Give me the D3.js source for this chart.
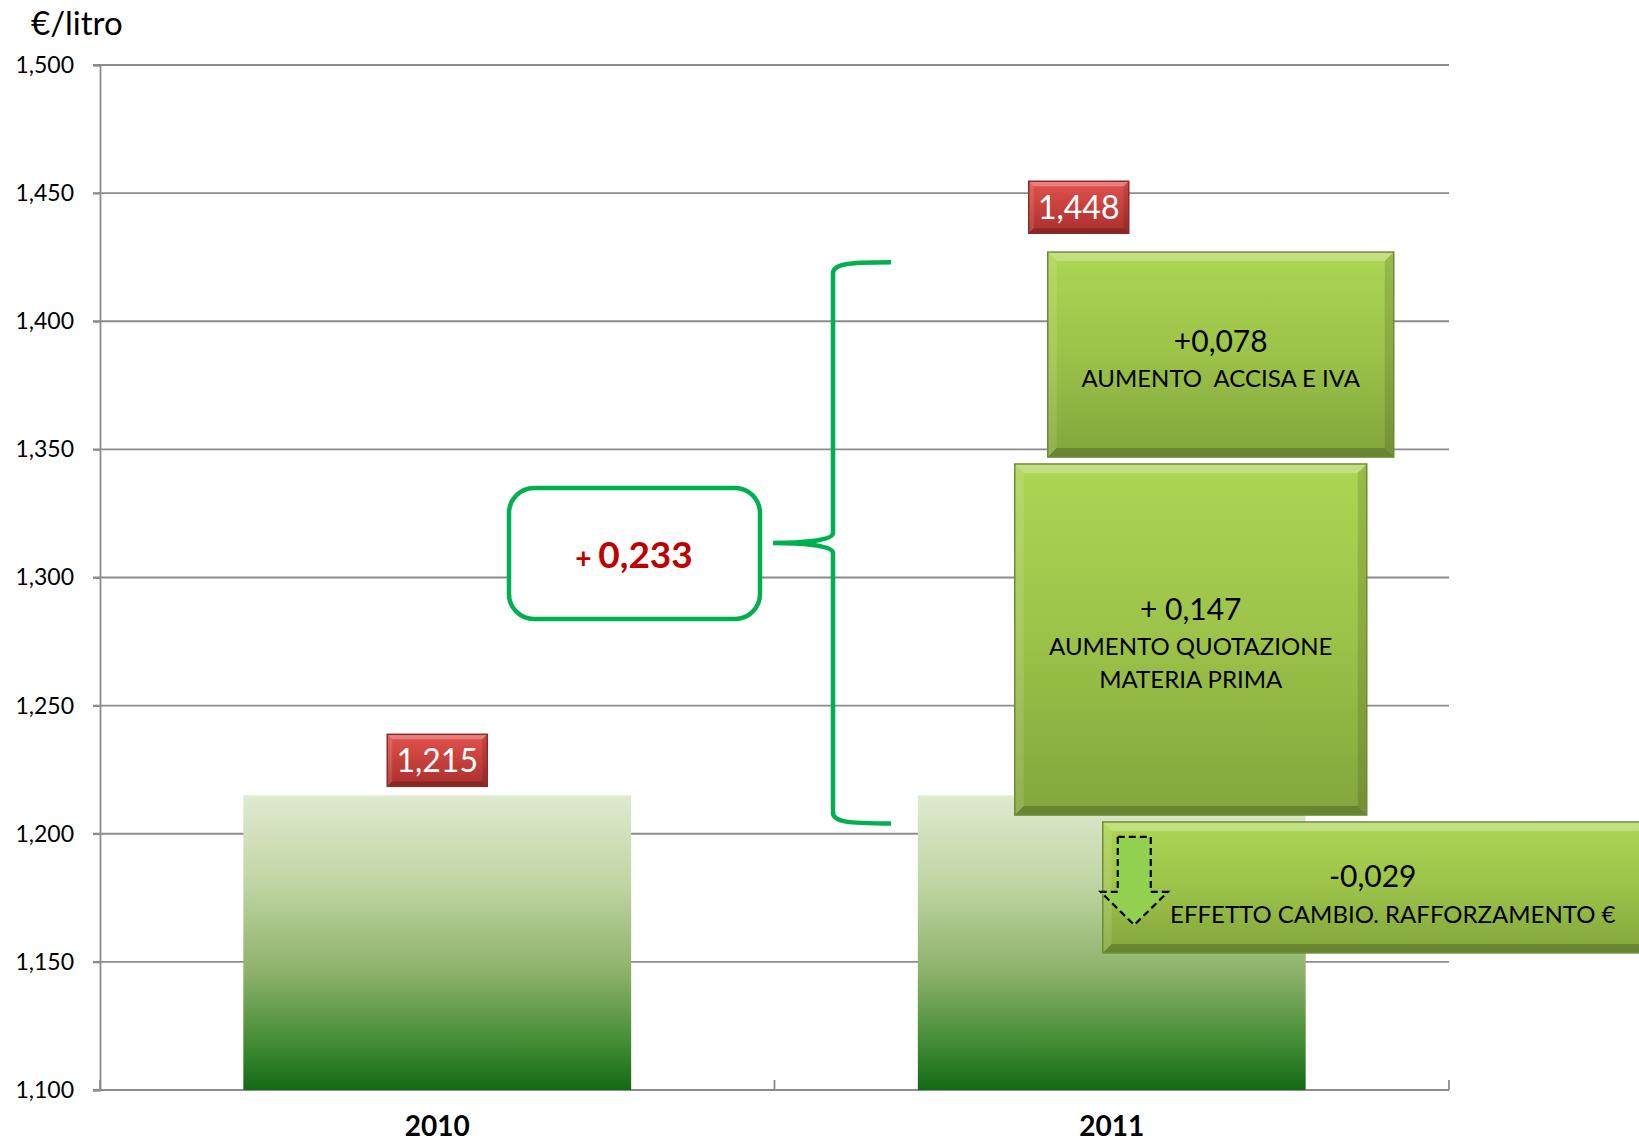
<!DOCTYPE html>
<html>
<head>
<meta charset="utf-8">
<script src="https://cdn.jsdelivr.net/npm/d3@7"></script>
<style>
  html, body { margin: 0; padding: 0; background: #fff; }
  svg { display: block; font-family: Lato, "Open Sans", sans-serif; }
</style>
</head>
<body>
<svg id="chart" width="1639" height="1142"></svg>
<script>
// --- Data ---
const categories = ["2010", "2011"];
const barValues = [1.215, 1.215];
const totalValues = [1.215, 1.448];
const yTicks = [1.1, 1.15, 1.2, 1.25, 1.3, 1.35, 1.4, 1.45, 1.5];
const changeValues = [0.078, 0.147, -0.029];
const changeSigns = ["+", "+ ", ""];
const changeLabels = [
    ["AUMENTO  ACCISA E IVA"],
    ["AUMENTO QUOTAZIONE", "MATERIA PRIMA"],
    ["EFFETTO CAMBIO. RAFFORZAMENTO €"]
];
const totalChange = 0.233;
const yUnit = "€/litro";

// --- Layout ---
const M = { left: 100, right: 1449, top: 65, bottom: 1090 };
const COLORS = {
    grid: "#8c8c8c",
    brace: "#00b050",
    redText: "#c00000"
};
// change boxes: x offsets from the 2011 bar centre, vertical extent in axis units
const boxLayout = [
    { x0: -64, x1: 282, top: 1.427, bottom: 1.347, lines: [352, 387] },
    { x0: -97, x1: 255, top: 1.3443, bottom: 1.2073, lines: [620, 655, 688] },
    { x0: -9, x1: 545, top: 1.2046, bottom: 1.1535, lines: [887, 923], textDx: [270, 290] }
];
const labelOffsets = [{ dx: 0, dy: -9 }, { dx: -33, dy: 35 }];

const it = d3.formatLocale({ decimal: ",", thousands: ".", grouping: [3], currency: ["€", ""], minus: "-" });
const fmt = it.format(".3f");

const svg = d3.select("#chart");

const x = d3.scaleBand()
    .domain(categories)
    .range([M.left, M.right])
    .paddingInner(0.425)
    .paddingOuter(0.2125);

const y = d3.scaleLinear()
    .domain([1.1, 1.5])
    .range([M.bottom, M.top]);

const defs = svg.append("defs");

function vGradient(id, stops) {
    const g = defs.append("linearGradient").attr("id", id)
        .attr("x1", 0).attr("y1", 0).attr("x2", 0).attr("y2", 1);
    stops.forEach(s => g.append("stop").attr("offset", s[0]).attr("stop-color", s[1]));
}
vGradient("barGrad", [[0, "#dfead0"], [0.3, "#c0d5a3"], [0.6, "#8db269"], [0.85, "#3f8a33"], [1, "#126a13"]]);
vGradient("greenBox", [[0, "#acd653"], [0.5, "#9cc249"], [1, "#83a53c"]]);
vGradient("redBox", [[0, "#e2524d"], [1, "#a92f2c"]]);

// --- Grid ---
svg.append("g")
    .selectAll("line")
    .data(yTicks)
    .join("line")
    .attr("x1", M.left - 7)
    .attr("x2", M.right)
    .attr("y1", d => y(d))
    .attr("y2", d => y(d))
    .attr("stroke", COLORS.grid)
    .attr("stroke-width", 1.8);

// --- Y axis ---
const yAxis = svg.append("g")
    .attr("transform", `translate(${M.left},0)`)
    .call(d3.axisLeft(y).tickValues(yTicks).tickFormat(fmt).tickSize(7).tickPadding(19));
yAxis.select(".domain").attr("stroke", COLORS.grid).attr("stroke-width", 1.8);
yAxis.selectAll(".tick line").attr("stroke", COLORS.grid).attr("stroke-width", 1.8);
yAxis.selectAll(".tick text")
    .attr("font-family", "Lato, sans-serif")
    .attr("font-size", 23)
    .attr("fill", "#000");

svg.append("text")
    .attr("x", 31)
    .attr("y", 35)
    .attr("font-size", 33)
    .attr("fill", "#000")
    .text(yUnit);

// --- X axis ---
const boundaries = [0, 1, 2].map(i => M.left + i * x.step());
svg.append("g")
    .selectAll("line")
    .data(boundaries)
    .join("line")
    .attr("x1", d => d).attr("x2", d => d)
    .attr("y1", M.bottom - 10).attr("y2", M.bottom)
    .attr("stroke", COLORS.grid)
    .attr("stroke-width", 1.8);

svg.append("g")
    .selectAll("text")
    .data(categories)
    .join("text")
    .attr("x", d => x(d) + x.bandwidth() / 2)
    .attr("y", 1136)
    .attr("text-anchor", "middle")
    .attr("font-size", 28)
    .attr("font-weight", "bold")
    .attr("fill", "#000")
    .text(d => d);

// --- Bars ---
svg.append("g")
    .selectAll("rect")
    .data(categories)
    .join("rect")
    .attr("x", d => x(d))
    .attr("width", x.bandwidth())
    .attr("y", (d, i) => y(barValues[i]))
    .attr("height", (d, i) => y(1.1) - y(barValues[i]))
    .attr("fill", "url(#barGrad)");

// --- Bevelled box helper ---
function bevelBox(g, x0, y0, x1, y1, fill, stroke, b) {
    g.append("rect")
        .attr("x", x0).attr("y", y0)
        .attr("width", x1 - x0).attr("height", y1 - y0)
        .attr("fill", fill);
    const faces = [
        [[x0, y0], [x1, y0], [x1 - b, y0 + b], [x0 + b, y0 + b], "#fff", 0.28],
        [[x0, y0], [x0 + b, y0 + b], [x0 + b, y1 - b], [x0, y1], "#fff", 0.12],
        [[x1, y0], [x1, y1], [x1 - b, y1 - b], [x1 - b, y0 + b], "#000", 0.12],
        [[x0, y1], [x0 + b, y1 - b], [x1 - b, y1 - b], [x1, y1], "#000", 0.2]
    ];
    faces.forEach(f => {
        g.append("polygon")
            .attr("points", f.slice(0, 4).map(p => p.join(",")).join(" "))
            .attr("fill", f[4])
            .attr("opacity", f[5]);
    });
    g.append("rect")
        .attr("x", x0).attr("y", y0)
        .attr("width", x1 - x0).attr("height", y1 - y0)
        .attr("fill", "none")
        .attr("stroke", stroke)
        .attr("stroke-width", 1.5);
}

// --- Change boxes ---
const cx2011 = x("2011") + x.bandwidth() / 2;
const boxes = svg.append("g");
changeValues.forEach((v, i) => {
    const L = boxLayout[i];
    const g = boxes.append("g");
    const x0 = cx2011 + L.x0, x1 = cx2011 + L.x1;
    bevelBox(g, x0, y(L.top), x1, y(L.bottom), "url(#greenBox)", "#6e8c33", 9);
    const tx = L.textDx ? L.textDx.map(d => x0 + d) : [(x0 + x1) / 2, (x0 + x1) / 2];
    g.append("text")
        .attr("x", tx[0])
        .attr("y", L.lines[0])
        .attr("text-anchor", "middle")
        .attr("font-size", 30)
        .attr("fill", "#000")
        .text(changeSigns[i] + fmt(v));
    changeLabels[i].forEach((t, j) => {
        g.append("text")
            .attr("x", tx[Math.min(j + 1, tx.length - 1)])
            .attr("y", L.lines[j + 1])
            .attr("text-anchor", "middle")
            .attr("font-size", 24)
            .attr("fill", "#000")
            .attr("xml:space", "preserve")
            .style("white-space", "pre")
            .text(t);
    });
});

// down arrow in the negative box
const ax = cx2011 + boxLayout[2].x0;
const ay = y(boxLayout[2].top);
const arrowPts = [[15, 15], [48, 15], [48, 70], [65, 70], [31.5, 103], [-2, 70], [15, 70]];
svg.append("polygon")
    .attr("points", arrowPts.map(p => [ax + p[0], ay + p[1]].join(",")).join(" "))
    .attr("fill", "#92d050")
    .attr("stroke", "#000")
    .attr("stroke-width", 2.2)
    .attr("stroke-dasharray", "7,4");

// --- Total labels ---
const labelW = 100, labelH = 52;
categories.forEach((c, i) => {
    const cx = x(c) + x.bandwidth() / 2 + labelOffsets[i].dx;
    const bottom = y(totalValues[i]) + labelOffsets[i].dy;
    const g = svg.append("g");
    bevelBox(g, cx - labelW / 2, bottom - labelH, cx + labelW / 2, bottom, "url(#redBox)", "#8e2a27", 5);
    g.append("text")
        .attr("x", cx)
        .attr("y", bottom - 14)
        .attr("text-anchor", "middle")
        .attr("font-size", 32)
        .attr("fill", "#fff")
        .text(fmt(totalValues[i]));
});

// --- Brace + total change ---
const bTop = y(1.423), bBot = y(1.204), bMid = (bTop + bBot) / 2;
const bx = 833, bEnd = 891, bTip = 773;
svg.append("path")
    .attr("d", `M${bEnd},${bTop} C${bx + 12},${bTop} ${bx},${bTop + 2} ${bx},${bTop + 11}
        L${bx},${bMid - 10} C${bx},${bMid - 2} ${bTip + 25},${bMid} ${bTip},${bMid}
        C${bTip + 25},${bMid} ${bx},${bMid + 2} ${bx},${bMid + 10}
        L${bx},${bBot - 11} C${bx},${bBot - 2} ${bx + 12},${bBot} ${bEnd},${bBot}`)
    .attr("fill", "none")
    .attr("stroke", COLORS.brace)
    .attr("stroke-width", 4.5);

svg.append("rect")
    .attr("x", 509).attr("y", 488)
    .attr("width", 251).attr("height", 131)
    .attr("rx", 25).attr("ry", 25)
    .attr("fill", "#fff")
    .attr("stroke", COLORS.brace)
    .attr("stroke-width", 4.5);

const tc = svg.append("text")
    .attr("x", 634)
    .attr("y", 568)
    .attr("text-anchor", "middle")
    .attr("font-weight", "bold")
    .attr("fill", COLORS.redText);
tc.append("tspan").attr("font-size", 28).text("+ ");
tc.append("tspan").attr("font-size", 37).text(fmt(totalChange));
</script>
</body>
</html>
